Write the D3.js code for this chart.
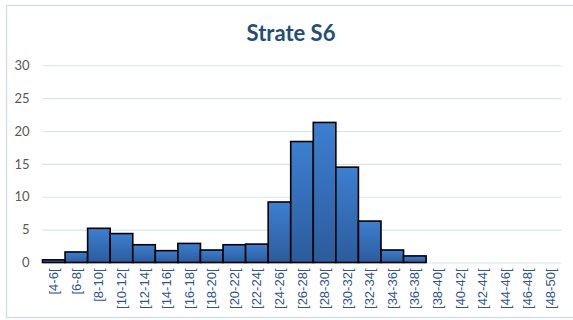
<!DOCTYPE html>
<html>
<head>
<meta charset="utf-8">
<script src="https://cdn.jsdelivr.net/npm/d3@7"></script>
<style>
  html, body { margin: 0; padding: 0; background: #fff; }
  svg { display: block; }
</style>
</head>
<body>
<svg id="chart" width="573" height="320"></svg>
<script>
// Size classes (cm) and their counts
const categories = ["[4-6[", "[6-8[", "[8-10[", "[10-12[", "[12-14[", "[14-16[", "[16-18[",
  "[18-20[", "[20-22[", "[22-24[", "[24-26[", "[26-28[", "[28-30[", "[30-32[", "[32-34[",
  "[34-36[", "[36-38[", "[38-40[", "[40-42[", "[42-44[", "[44-46[", "[46-48[", "[48-50["];
const values = [0.4, 1.6, 5.2, 4.4, 2.7, 1.8, 2.9, 1.9, 2.7, 2.8, 9.2, 18.4, 21.3, 14.5, 6.3,
  1.9, 1.0, 0, 0, 0, 0, 0, 0];
const yTicks = [0, 5, 10, 15, 20, 25, 30];
const title = "Strate S6";

const svg = d3.select("#chart");
const margin = { left: 42.5, right: 11.5, top: 65.25, bottom: 57.5 };
const W = 573, H = 320;

// chart frame
svg.append("rect")
  .attr("x", 6.5).attr("y", 5.5)
  .attr("width", 580).attr("height", 312)
  .attr("fill", "#fff")
  .attr("stroke", "#d6e0ec").attr("stroke-width", 1.5);

const x = d3.scaleBand()
  .domain(categories)
  .range([margin.left, W - margin.right])
  .padding(0);

const y = d3.scaleLinear()
  .domain([0, 30])
  .range([H - margin.bottom, margin.top]);

// gradient for bars
const defs = svg.append("defs");
const grad = defs.append("linearGradient")
  .attr("id", "barGrad").attr("x1", 0).attr("y1", 0).attr("x2", 0).attr("y2", 1);
grad.append("stop").attr("offset", "0%").attr("stop-color", "#3d7fd1");
grad.append("stop").attr("offset", "100%").attr("stop-color", "#2b5c9c");

// gridlines
const yAxis = d3.axisLeft(y).tickValues(yTicks).tickSize(-(W - margin.left - margin.right)).tickPadding(13);
const gy = svg.append("g")
  .attr("transform", `translate(${margin.left},0)`)
  .call(yAxis);
gy.select(".domain").remove();
gy.selectAll(".tick line").attr("stroke", "#d9e3f0").attr("stroke-width", 1.2);
gy.selectAll(".tick text")
  .attr("fill", "#595959")
  .style("font-family", "Lato, 'Open Sans', sans-serif")
  .style("font-size", "13px");

// bars
svg.append("g").selectAll("rect")
  .data(values)
  .join("rect")
  .attr("x", (d, i) => x(categories[i]))
  .attr("y", d => y(d))
  .attr("width", x.bandwidth())
  .attr("height", d => y(0) - y(d))
  .attr("fill", "url(#barGrad)")
  .attr("stroke", d => d > 0 ? "#000" : "none")
  .attr("stroke-width", 1.6);

// x axis labels
const xAxis = d3.axisBottom(x).tickSize(0).tickPadding(0);
const gx = svg.append("g")
  .attr("transform", `translate(0,${y(0)})`)
  .call(xAxis);
gx.select(".domain").remove();
gx.selectAll(".tick text")
  .attr("transform", "rotate(-90)")
  .attr("x", -6)
  .attr("y", 0)
  .attr("dy", "0.35em")
  .attr("text-anchor", "end")
  .attr("fill", "#2f5490")
  .style("font-family", "'Liberation Sans', Arial, sans-serif")
  .style("font-size", "13px");

// title
svg.append("text")
  .attr("x", 291).attr("y", 41)
  .attr("text-anchor", "middle")
  .attr("fill", "#1f4e79")
  .style("font-family", "Lato, 'Open Sans', sans-serif")
  .style("font-weight", "bold")
  .style("font-size", "22px")
  .text(title);
</script>
</body>
</html>
